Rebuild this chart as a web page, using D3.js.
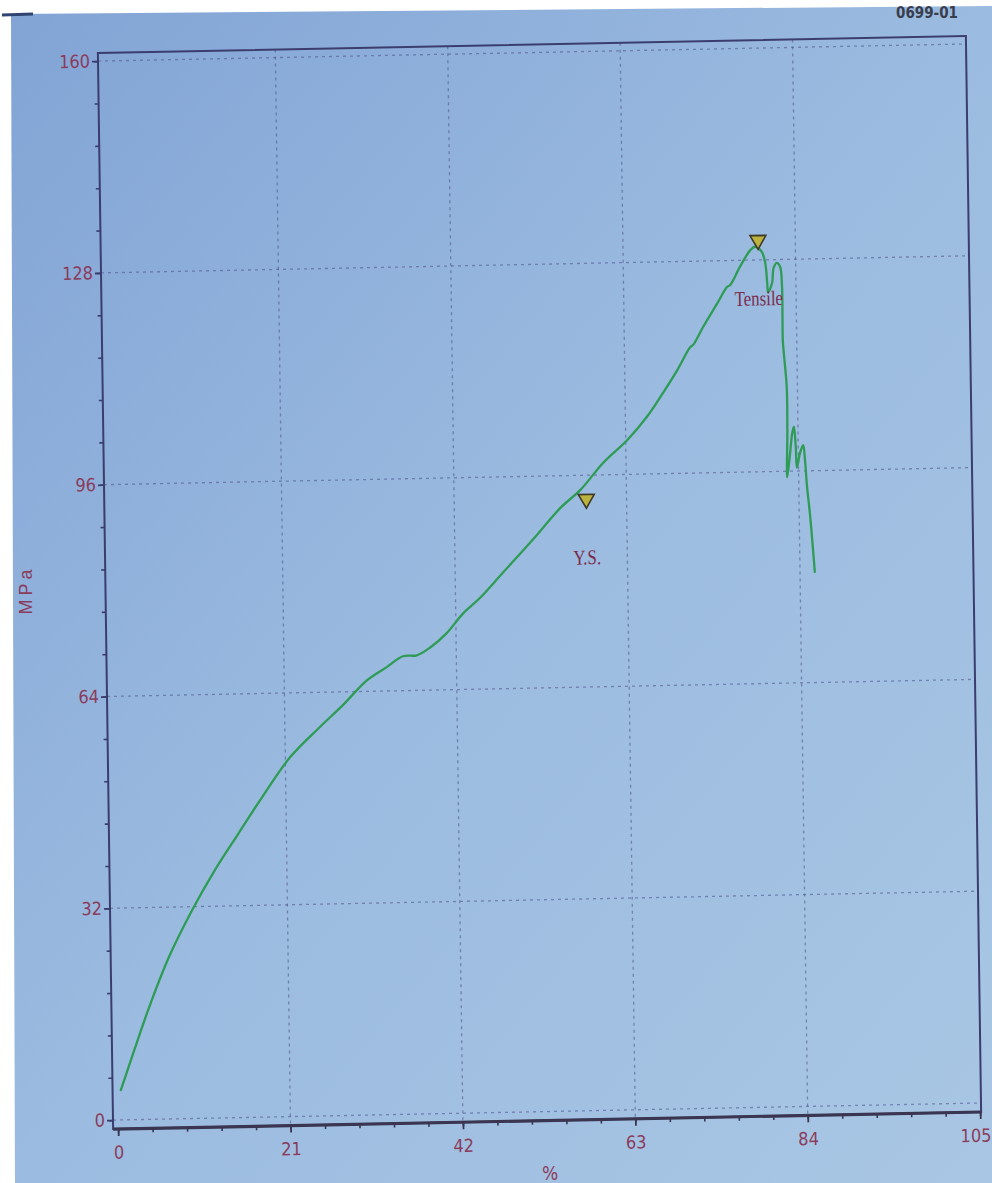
<!DOCTYPE html>
<html>
<head>
<meta charset="utf-8">
<script src="https://cdn.jsdelivr.net/npm/d3@7"></script>
<style>
  html, body { margin: 0; padding: 0; background: #ffffff; }
  svg { display: block; }
</style>
</head>
<body>
<svg id="chart" width="992" height="1183"></svg>
<script>
// Tensile test record: engineering strain (%) vs stress (MPa)
const strain = [0.4, 2.1, 4.1, 6.5, 9.4, 12.1, 15.1, 18.2, 21.6, 25.3, 28.1, 31.1, 33.5, 35.5, 37.2,
  38.8, 40.9, 42.9, 45.0, 47.8, 51.5, 54.9, 57.4, 60.2, 63.2, 65.6, 67.3, 69.4, 71.0, 71.4, 72.6,
  74.4, 75.6, 76.0, 77.2, 78.5, 79.1, 79.9, 80.3, 80.5, 80.6, 81.1, 81.3, 81.7, 82.1, 82.3, 82.3,
  82.4, 82.7, 82.7, 82.6, 82.9, 83.3, 83.5, 83.7, 83.8, 84.2, 84.6, 84.8, 85.0, 85.3, 85.6, 85.8];
const stress = [4.5, 10.5, 17.3, 24.5, 31.5, 37.2, 42.8, 48.5, 54.3, 58.8, 62.0, 65.7, 67.6, 69.2, 69.3,
  70.4, 72.6, 75.5, 77.8, 81.5, 86.4, 91.1, 93.8, 97.8, 101.2, 104.6, 107.6, 111.6, 115.0, 115.4, 118.0,
  121.6, 124.0, 124.3, 127.0, 129.5, 130.0, 129.2, 127.5, 124.5, 123.1, 124.5, 126.7, 127.5, 126.9, 123.9, 115.8,
  113.9, 108.7, 102.2, 95.1, 97.7, 101.8, 102.7, 99.6, 96.5, 98.7, 99.9, 97.6, 93.6, 89.6, 84.5, 80.7];

// Event markers (yield strength, tensile strength)
const markerNames = ["Y.S.", "Tensile"];
const markerStrain = [58.1, 79.45];
const markerStress = [92.4, 131.0];

// Axis ticks
const xTicks = [0, 21, 42, 63, 84, 105];
const yTicks = [0, 32, 64, 96, 128, 160];
const xLabel = "%";
const yLabel = "MPa";
const sampleId = "0699-01";

const W = 862, H = 1059;
const svg = d3.select("#chart");

// Screen-like blue panel with uneven brightness
const defs = svg.append("defs");
const grad = defs.append("linearGradient").attr("id", "panel")
  .attr("x1", "0").attr("y1", "0").attr("x2", "1").attr("y2", "1");
grad.append("stop").attr("offset", "0").attr("stop-color", "#82a4d5");
grad.append("stop").attr("offset", "0.5").attr("stop-color", "#9bbbe0");
grad.append("stop").attr("offset", "1").attr("stop-color", "#a9c7e4");

svg.append("polygon")
  .attr("points", "11,14 992,6 992,1183 15,1183")
  .attr("fill", "url(#panel)");
svg.append("line").attr("x1", 2).attr("y1", 15).attr("x2", 33).attr("y2", 14)
  .attr("stroke", "#2f4470").attr("stroke-width", 3);

svg.append("text").attr("x", 958).attr("y", 18).attr("text-anchor", "end")
  .attr("font-family", "'Liberation Sans Narrow', 'DejaVu Sans Condensed', sans-serif")
  .attr("font-size", 15).attr("font-weight", "bold").attr("fill", "#3a3e4c").text(sampleId);

// Plot group, slightly skewed like the monitor it was shown on
const g = svg.append("g").attr("transform", "matrix(1,-0.01972,0.01416,1,103,61)");

const x = d3.scaleLinear().domain([0, 105]).range([0, W]);
const y = d3.scaleLinear().domain([0, 160]).range([H, 0]);

const fL = -5, fR = 863, fT = -8, fB = 1068;

// Dotted grid
const gridColor = "#4b4f86";
g.append("g").selectAll("line").data(yTicks).join("line")
  .attr("x1", fL).attr("x2", fR)
  .attr("y1", d => y(d)).attr("y2", d => y(d))
  .attr("stroke", gridColor).attr("stroke-opacity", 0.55)
  .attr("stroke-width", 1.3).attr("stroke-dasharray", "3,4");
g.append("g").selectAll("line").data(xTicks.slice(1, -1)).join("line")
  .attr("x1", d => x(d)).attr("x2", d => x(d))
  .attr("y1", fT).attr("y2", fB)
  .attr("stroke", gridColor).attr("stroke-opacity", 0.55)
  .attr("stroke-width", 1.3).attr("stroke-dasharray", "3,4");

// Frame
g.append("rect").attr("x", fL).attr("y", fT).attr("width", fR - fL).attr("height", fB - fT)
  .attr("fill", "none").attr("stroke", "#3b3d6e").attr("stroke-width", 2);
g.append("line").attr("x1", fL).attr("x2", fR).attr("y1", fB).attr("y2", fB)
  .attr("stroke", "#3a3550").attr("stroke-width", 3.2);

const tickFont = "'Liberation Sans Narrow', 'DejaVu Sans Condensed', 'Arial Narrow', sans-serif";
const labelColor = "#8a3c5c";

// Minor ticks
const xMinor = d3.range(0, 105.01, 4.2);
const yMinor = d3.range(0, 160.01, 6.4);
g.append("g").attr("transform", `translate(0,${fB})`)
  .call(d3.axisBottom(x).tickValues(xMinor).tickSize(4).tickFormat(""))
  .call(s => s.select(".domain").remove())
  .call(s => s.selectAll("line").attr("stroke", "#3a3550").attr("stroke-width", 1.6));
g.append("g").attr("transform", `translate(${fL},0)`)
  .call(d3.axisLeft(y).tickValues(yMinor).tickSize(4).tickFormat(""))
  .call(s => s.select(".domain").remove())
  .call(s => s.selectAll("line").attr("stroke", "#3b3d6e").attr("stroke-width", 1.6));

// Major ticks and labels
g.append("g").attr("transform", `translate(0,${fB})`)
  .call(d3.axisBottom(x).tickValues(xTicks).tickSize(7).tickPadding(10).tickFormat(d3.format("d")))
  .call(s => s.select(".domain").remove())
  .call(s => s.selectAll("line").attr("stroke", "#3a3550").attr("stroke-width", 1.8))
  .call(s => s.selectAll("text").attr("font-family", tickFont).attr("font-size", 18).attr("fill", labelColor)
    .attr("dx", d => d === 105 ? -5 : 0));
g.append("g").attr("transform", `translate(${fL},0)`)
  .call(d3.axisLeft(y).tickValues(yTicks).tickSize(6).tickPadding(2).tickFormat(d3.format("d")))
  .call(s => s.select(".domain").remove())
  .call(s => s.selectAll("line").attr("stroke", "#3b3d6e").attr("stroke-width", 1.8))
  .call(s => s.selectAll("text").attr("font-family", tickFont).attr("font-size", 18).attr("fill", labelColor));

// Stress-strain curve
const pts = strain.map((s, i) => [s, stress[i]]);
const line = d3.line().x(d => x(d[0])).y(d => y(d[1])).curve(d3.curveCatmullRom.alpha(0.5));
g.append("path").datum(pts).attr("d", line)
  .attr("fill", "none").attr("stroke", "#2e9c55").attr("stroke-width", 2.3)
  .attr("stroke-linejoin", "round").attr("stroke-linecap", "round");

// Markers with their labels
const tri = d3.symbol(d3.symbolTriangle, 110);
const mk = g.append("g").selectAll("g").data(markerNames).join("g")
  .attr("transform", (d, i) => `translate(${x(markerStrain[i])},${y(markerStress[i])})`);
mk.append("path").attr("d", tri).attr("transform", "rotate(180)")
  .attr("fill", "#bcb23e").attr("stroke", "#3d3a28").attr("stroke-width", 1.6);
mk.append("text").attr("y", 58).attr("dy", "0.35em").attr("text-anchor", "middle")
  .attr("transform", "scale(0.8,1)")
  .attr("font-family", "'Liberation Serif', 'DejaVu Serif', serif")
  .attr("font-size", 21).attr("fill", "#7a2b4c").text(d => d);

// Axis titles
svg.append("text").attr("transform", "translate(26,590) rotate(-90)")
  .attr("text-anchor", "middle").attr("dy", "0.35em")
  .attr("font-family", "'Liberation Sans', 'DejaVu Sans', sans-serif")
  .attr("font-size", 18).attr("letter-spacing", 4).attr("fill", labelColor).text(yLabel);
svg.append("text").attr("x", 550).attr("y", 1173).attr("text-anchor", "middle").attr("dy", "0.35em")
  .attr("font-family", "'Liberation Sans Narrow', 'DejaVu Sans Condensed', sans-serif")
  .attr("font-size", 19).attr("fill", labelColor).text(xLabel);
</script>
</body>
</html>
